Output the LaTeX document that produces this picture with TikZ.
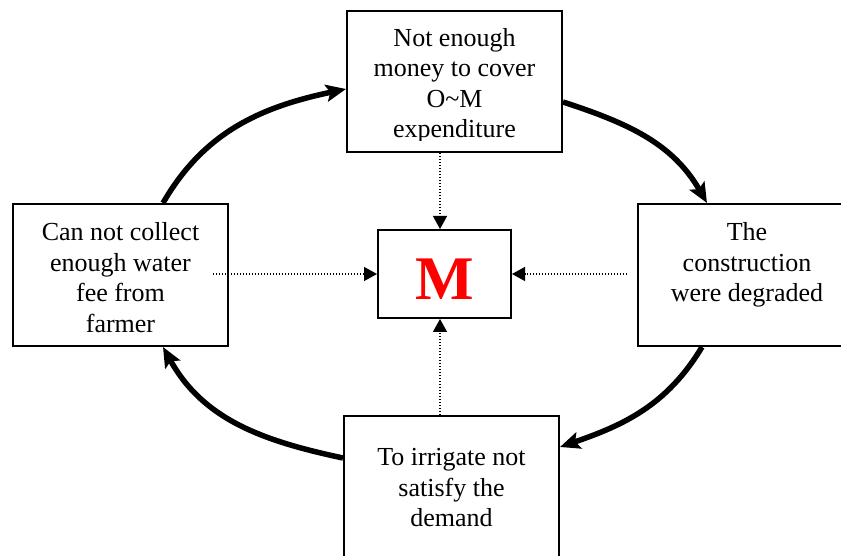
\documentclass[tikz,border=0pt]{standalone}
\usepackage{fontspec}
\setmainfont{Liberation Serif}
\usetikzlibrary{arrows.meta,calc}

\begin{document}
\begin{tikzpicture}[x=1pt,y=1pt,
  box/.style={draw=black, line width=2pt, fill=white, inner sep=0pt,
    minimum width=215pt, minimum height=141pt},
  % base anchor of a multi-line node sits on its last line
  boxtext/.style={font=\fontsize{26}{30.5}\selectfont, align=center,
    inner sep=0pt, anchor=base},
  cyclearrow/.style={line width=5.5pt,
    -{Stealth[length=20pt,width=17pt,inset=4pt]}},
  feed/.style={line width=1.3pt, dash pattern=on 1.3pt off 1.7pt,
    -{Triangle[length=13pt,width=14pt]}},
]
\useasboundingbox (0,0) rectangle (841,555);
\clip (0,0) rectangle (841,555);

% the four stages of the cycle
\node[box] (T) at (454.5,473.5) {};
\node[box, minimum height=142pt] (L) at (120.5,280) {};
\node[box, minimum width=218pt, minimum height=142pt] (R) at (747,280) {};
\node[box] (B) at (451.5,68.5) {};

% central box
\node[box, minimum width=133pt, minimum height=88pt,
  font=\fontsize{62}{62}\selectfont\bfseries, text=red,
  text height=52pt, text depth=0pt] (M) at (444.5,281) {M};

% stage texts, cut off at the inner margin of each box
\begin{scope}
  \clip (T.north west) rectangle ([yshift=12pt]T.south east);
  \node[boxtext] (Ttext) at ([yshift=-128pt]T.north)
    {Not enough\\money to cover\\O\char`\~M\\expenditure};
\end{scope}
\begin{scope}
  \clip (L.north west) rectangle ([yshift=14.5pt]L.south east);
  \node[boxtext] (Ltext) at ([yshift=-129.2pt]L.north)
    {Can not collect\\enough water\\fee from\\farmer};
\end{scope}
\node[boxtext] (Rtext) at ([yshift=-98.7pt]R.north)
  {The\\construction\\were degraded};
\node[boxtext] (Btext) at ([yshift=-111.7pt]B.north)
  {To irrigate not\\satisfy the\\demand};

% the vicious cycle
\draw[cyclearrow] ([xshift=42.5pt]L.north) to[out=60,in=192] ([yshift=-7.5pt]T.west);
\draw[cyclearrow] ([yshift=-20.5pt]T.east) to[out=-18,in=120] ([xshift=-40pt]R.north);
\draw[cyclearrow] ([xshift=-45pt]R.south) to[out=239,in=19] ([yshift=39.5pt]B.east);
\draw[cyclearrow] ([yshift=28.5pt]B.west) to[out=168,in=299] ([xshift=42.5pt]L.south);

% dotted influences on M
\coordinate (mt) at ([xshift=-4.5pt]M.north);
\coordinate (mb) at ([xshift=-4.5pt]M.south);
\coordinate (lsrc) at (213,281);
\coordinate (rsrc) at (627,281);
\draw[feed] (T.south -| mt) -- (mt);
\draw[feed] (B.north -| mb) -- (mb);
\draw[feed] (lsrc) -- (M.west);
\draw[feed] (rsrc) -- (M.east);
\end{tikzpicture}
\end{document}
